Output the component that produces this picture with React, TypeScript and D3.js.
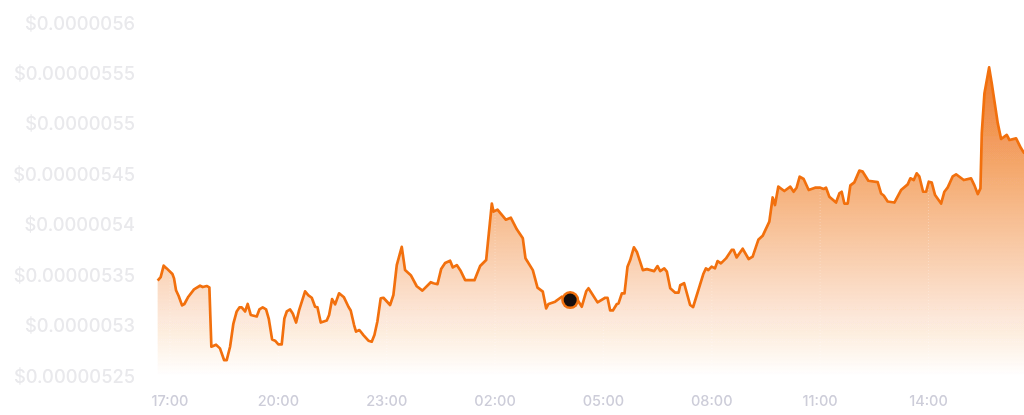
import React from "react";
import * as d3 from "d3";

const WIDTH = 1024;
const HEIGHT = 415;

// Prices in units of 1e-8 USD
const yTickValues = [525, 530, 535, 540, 545, 550, 555, 560];
const yTickLabels = ["$0.00000525", "$0.0000053", "$0.00000535", "$0.0000054", "$0.00000545", "$0.0000055", "$0.00000555", "$0.0000056"];
// Minutes after 17:00
const xTickValues = [0, 180, 360, 540, 720, 900, 1080, 1260];
const xTickLabels = ["17:00", "20:00", "23:00", "02:00", "05:00", "08:00", "11:00", "14:00"];

const minutes = [
  -20.5, -15.5, -10.5, -5.5, 4, 6.7, 10, 14.4, 20, 23.9, 30.5, 39.9, 49.9, 54.3, 61, 65.4, 68.7, 76.5, 83, 89.8, 94.2, 99.8, 105.3, 110.8, 115.3, 119.1, 124.7, 129.1, 134.1, 144.1, 148.5, 154, 159.6, 164, 169.6, 174.6, 180, 185.6, 190, 194, 199.5, 203.9, 209.5, 214.4, 224.4, 230, 235.5, 241, 245, 250.4, 260.4, 264.3, 269.3, 274.3,
  280.9, 289, 296.4, 300.2, 305.8, 309, 314.6, 321.3, 329.6, 335.1, 339.6, 344.5, 350, 354.5, 365.6, 371.1, 376.7, 385, 390.5, 400, 409.9, 419.3, 433.2, 437.6, 444.3, 450.4, 457, 465.3, 469.8, 476.4, 483, 490.3, 505.8, 515.2, 525.2, 534.6, 537.3, 544, 557.8, 566.1, 576.1, 586.1, 590.5, 602.7, 610.5, 619.3, 624.9, 628.8, 639.8, 650.9, 664.8, 677, 684.1, 691.4, 695.2, 710.2, 723, 726.8, 731.2, 735.7, 742.3, 745.1, 750.6, 755, 760, 764.5, 770.6, 775.6, 785.5, 792.2, 804.4, 809.9, 814.3, 821, 825.4, 831, 839.3, 844.8, 847.6,
  854, 864, 869, 885.9, 890.3, 894.2, 899.7, 905.3, 909.7, 915.2, 923.6, 933, 936.3, 941.3, 951.3, 961.2, 967.9, 977.3, 984.5, 995.6, 1001.1, 1005, 1010.5, 1020.5, 1030.5, 1036, 1041, 1046, 1052.6, 1061, 1071.5, 1080.3, 1085.9, 1089.8, 1095.3, 1106.4, 1111.9, 1115.8, 1120.2, 1125.8, 1130.2, 1136.8, 1145.2, 1150.7, 1160.1, 1175.6, 1181.2, 1185.6, 1192.2, 1203.3, 1214.4, 1225.5, 1229.9, 1235.5, 1240.4, 1244.9, 1251, 1256, 1260.4, 1265.4, 1270.9, 1280.9, 1286.4, 1292, 1300.3, 1305.8, 1318.6, 1330.7, 1336.3, 1341.8, 1346.3, 1348.5, 1352.9, 1360.7, 1365.1, 1375.1, 1380.6, 1390, 1394.5, 1405.5, 1413.8, 1419.4,
];
const prices = [
  534.45, 534.8, 535.94, 535.67, 535.11, 534.68, 533.5, 532.93, 532.0, 532.14, 532.86, 533.59, 533.95, 533.82, 533.92, 533.79, 527.9, 528.1, 527.74, 526.58, 526.58, 527.9, 530.2, 531.4, 531.8, 531.8, 531.4, 532.14, 531.05, 530.9, 531.6, 531.8, 531.6, 530.7, 528.63, 528.5, 528.14, 528.14, 530.7, 531.4, 531.6, 531.2, 530.3, 531.5, 533.4, 533.0, 532.76, 531.87, 531.8, 530.3, 530.5, 531.05, 532.63, 532.1,
  533.2, 532.8, 531.87, 531.5, 530.05, 529.4, 529.56, 529.06, 528.5, 528.4, 529.06, 530.4, 532.7, 532.76, 532.04, 533.03, 536.0, 537.8, 535.5, 535.0, 533.9, 533.46, 534.3, 534.2, 534.1, 535.6, 536.2, 536.43, 535.77, 536.0, 535.4, 534.5, 534.5, 535.9, 536.5, 542.1, 541.3, 541.5, 540.5, 540.7, 539.54, 538.65, 536.67, 535.5, 533.76, 533.36, 531.7, 532.14, 532.37, 532.86, 532.53, 532.53, 531.87, 533.4, 533.7, 532.3, 532.76, 532.76, 531.5, 531.5, 532.14, 532.2, 533.2, 533.2, 535.84, 536.5, 537.76, 537.3, 535.5, 535.6, 535.4, 535.9, 535.4, 535.67, 535.34, 533.7, 533.26, 533.26, 534.0,
  534.2, 532.04, 531.84, 535.11, 535.67, 535.5, 535.84, 535.67, 536.4, 536.17, 536.66, 537.5, 537.5, 536.76, 537.62, 536.6, 536.83, 538.5, 538.9, 540.3, 542.7, 541.95, 543.77, 543.34, 543.77, 543.27, 543.7, 544.76, 544.53, 543.44, 543.67, 543.67, 543.54, 543.67, 542.78, 542.2, 543.1, 543.27, 542.1, 542.1, 543.9, 544.2, 545.36, 545.26, 544.36, 544.23, 543.1, 542.9, 542.3, 542.2, 543.44, 544.0, 544.6, 544.43, 545.1, 544.76, 543.27, 543.27, 544.26, 544.17, 542.94, 542.1, 543.27, 543.7, 544.8, 545, 544.43, 544.6, 543.9, 543.04, 543.6, 549.06, 553.0, 555.6, 554, 550.05, 548.5, 548.9, 548.4, 548.56, 547.57, 547.07,
];
const activeMinute = 664.8;
const activePrice = 532.53;

const x = d3.scaleLinear().domain([0, 1260]).range([170, 928.5]);
const y = d3.scaleLinear().domain([525, 560]).range([376, 23]);

const rows = minutes.map((m, i) => ({ m, p: prices[i] }));
const line = d3.line<{ m: number; p: number }>().x((d) => x(d.m)).y((d) => y(d.p)).curve(d3.curveLinear);
const area = d3
  .area<{ m: number; p: number }>()
  .x((d) => x(d.m))
  .y0(y(525))
  .y1((d) => y(d.p))
  .curve(d3.curveLinear);

const FONT = "Inter, 'Open Sans', sans-serif";

export default function App() {
  return (
    <svg
      width={WIDTH}
      height={HEIGHT}
      viewBox={`0 0 ${WIDTH} ${HEIGHT}`}
      style={{ position: "absolute", left: 0, top: 0, background: "#fff" }}
    >
      <defs>
        <linearGradient id="fill" gradientUnits="userSpaceOnUse" x1="0" x2="0" y1={y(555.6)} y2={y(525)}>
          <stop offset="0" stopColor="#ec6f14" stopOpacity="0.92" />
          <stop offset="1" stopColor="#f07a20" stopOpacity="0" />
        </linearGradient>
        <filter id="soft" x="-5%" y="-5%" width="110%" height="110%">
          <feGaussianBlur stdDeviation="0.45" />
        </filter>
      </defs>
      <g filter="url(#soft)">
        {yTickValues.map((v, i) => (
          <text key={v} x={135} y={y(v)} dy="0.36em" textAnchor="end" fontFamily={FONT} fontWeight={500} fontSize={18.3} fill="#e9e9ec">
            {yTickLabels[i]}
          </text>
        ))}
        {xTickValues.map((v, i) => (
          <text key={v} x={x(v)} y={401} dy="0.36em" textAnchor="middle" fontFamily={FONT} fontWeight={500} fontSize={14.5} fill="#cdcdd9">
            {xTickLabels[i]}
          </text>
        ))}
        <path d={area(rows) ?? ""} fill="url(#fill)" />
        {xTickValues.map((v) => (
          <line key={v} x1={x(v)} x2={x(v)} y1={y(525)} y2={y(560)} stroke="#ffffff" strokeOpacity={0.25} strokeDasharray="1 2" />
        ))}
        <path d={line(rows) ?? ""} fill="none" stroke="#f2700f" strokeWidth={2.7} strokeLinejoin="round" />
        <circle cx={x(activeMinute)} cy={y(activePrice)} r={9} fill="#f2700f" />
        <circle cx={x(activeMinute)} cy={y(activePrice)} r={6.5} fill="#14110f" />
      </g>
    </svg>
  );
}
